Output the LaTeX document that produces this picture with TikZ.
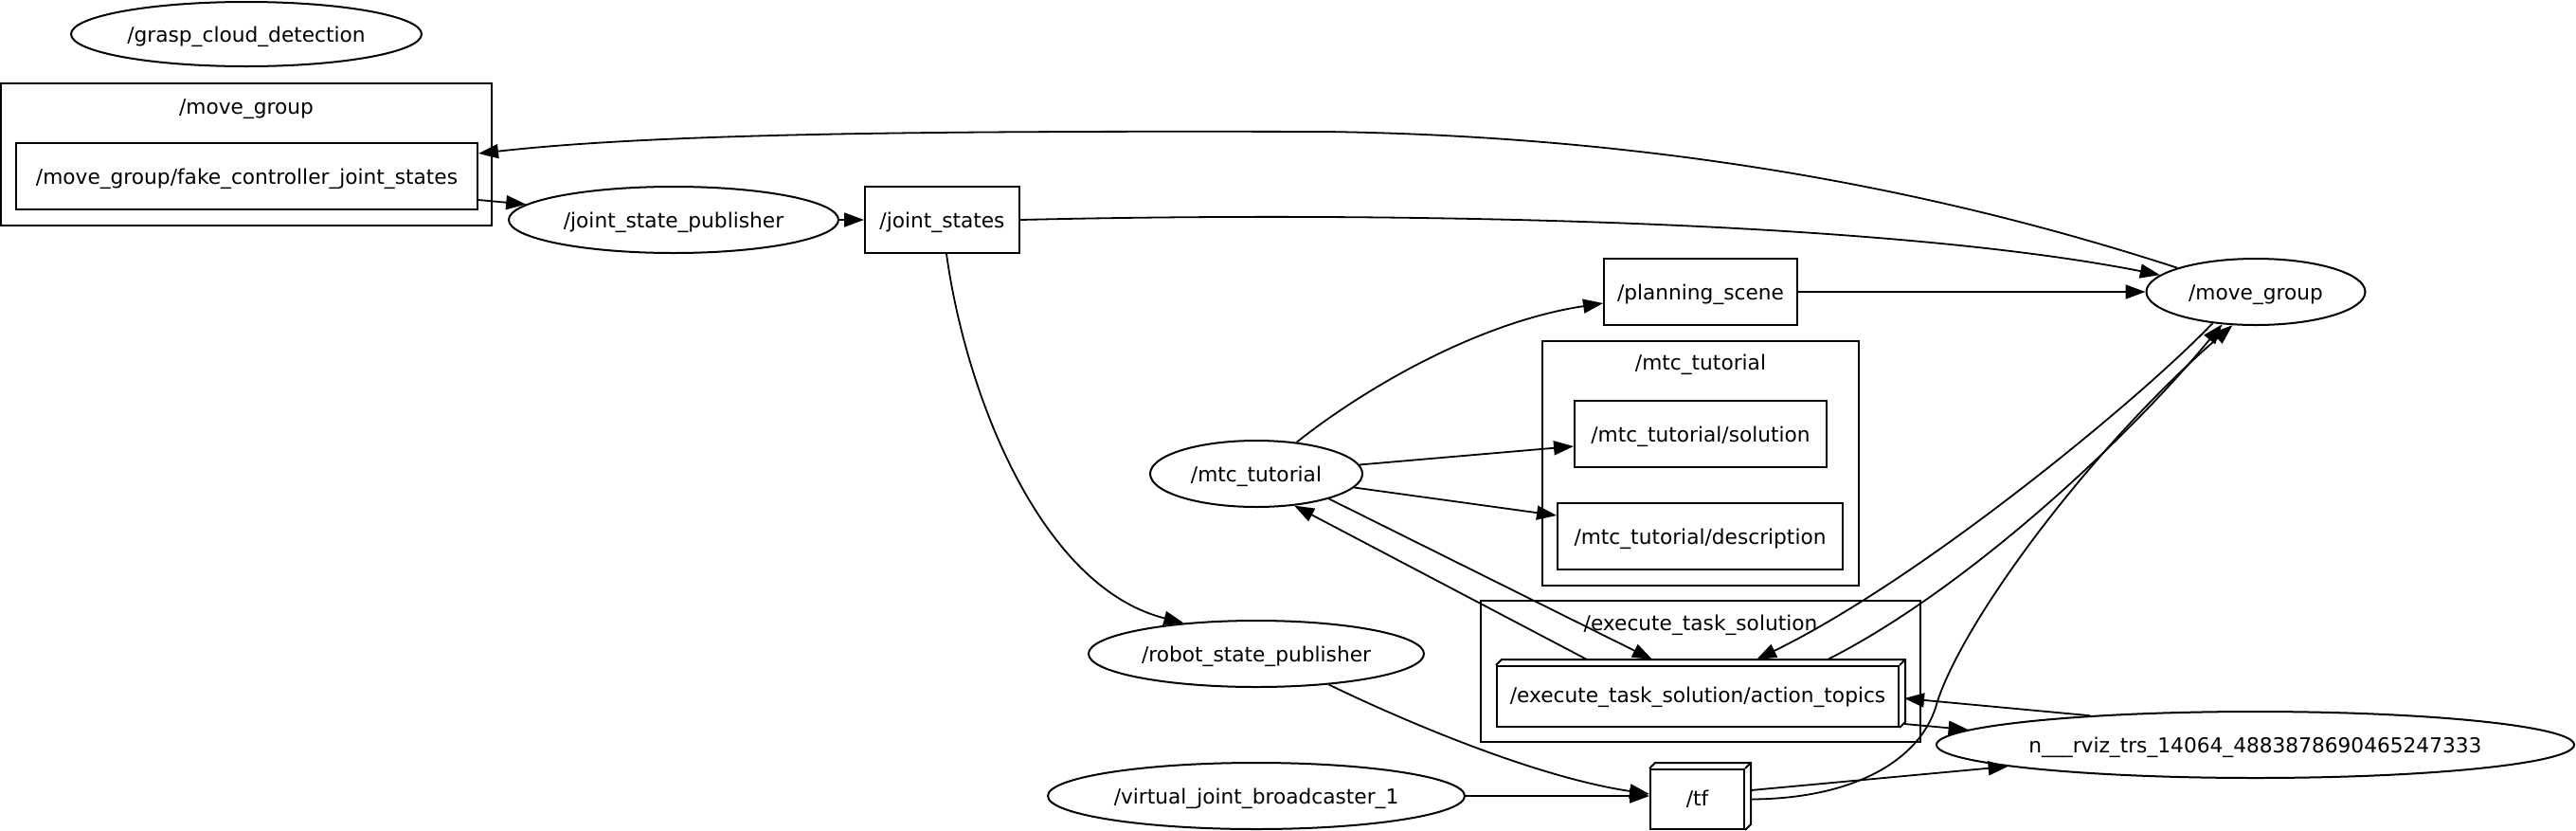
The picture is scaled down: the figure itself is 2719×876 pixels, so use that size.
\documentclass[tikz,border=0pt]{standalone}
\usepackage{fontspec}
\setmainfont{DejaVu Sans}
\usetikzlibrary{shapes.geometric,arrows.meta,calc}
\begin{document}
\begin{tikzpicture}[x=1pt,y=-1pt,
  every node/.style={font=\fontsize{21.7}{26}\selectfont, inner sep=0pt, text height=17pt, text depth=0pt},
  ell/.style={draw, ellipse, line width=2pt, minimum height=70pt},
  box/.style={draw, rectangle, line width=2pt, minimum height=70pt},
  boxthree/.style={draw, rectangle, line width=2pt, text height=13pt},
  clus/.style={draw, rectangle, line width=2pt},
  edge/.style={line width=1.8pt, -{Triangle[length=21pt,width=15pt]}},
  face/.style={line width=2pt, line join=miter}
]
\useasboundingbox (0,0) rectangle (2719,876);

% clusters
\node[clus, minimum width=518pt, minimum height=150pt] (mgc) at (260,163) {};
\node (mgcl) at (260,111.5) {/move\_group};
\node[clus, minimum width=334pt, minimum height=258pt] (mtcc) at (1795,489) {};
\node (mtccl) at (1795,381.5) {/mtc\_tutorial};
\node[clus, minimum width=464pt, minimum height=149pt] (etsc) at (1795,708.5) {};
\node (etscl) at (1795,656.5) {/execute\_task\_solution};

% nodes
\node[ell, minimum width=370pt, minimum height=68pt] (grasp) at (260,36) {/grasp\_cloud\_detection};
\node[box, minimum width=487pt] (fake) at (260.5,186) {/move\_group/fake\_controller\_joint\_states};
\node[ell, minimum width=348pt] (jsp) at (711,232) {/joint\_state\_publisher};
\node[box, minimum width=163pt] (js) at (994.5,232) {/joint\_states};
\node[box, minimum width=204pt] (ps) at (1795,308) {/planning\_scene};
\node[ell, minimum width=231pt] (mg) at (2381,308) {/move\_group};
\node[box, minimum width=266pt] (sol) at (1795,458) {/mtc\_tutorial/solution};
\node[box, minimum width=301pt] (desc) at (1794.5,566) {/mtc\_tutorial/description};
\node[ell, minimum width=224pt] (mtc) at (1326,500) {/mtc\_tutorial};
\node[ell, minimum width=354pt] (rsp) at (1326,690) {/robot\_state\_publisher};
\node[ell, minimum width=440pt] (vjb) at (1326,840) {/virtual\_joint\_broadcaster\_1};
\node[boxthree, minimum width=424pt, minimum height=64pt] (at) at (1792,735) {/execute\_task\_solution/action\_topics};
\node[boxthree, minimum width=99pt, minimum height=63pt] (tf) at (1791.5,843.5) {/tf};
\node[ell, minimum width=673pt, label={[name=rvizt]center:n\_\_\_rviz\_trs\_14064\_4883878690465247333}] (rviz) at (2380.5,786) {};

% 3d faces
\draw[face] (at.north west) -- ++(6,-6) -- ($(at.north east)+(6,-6)$) -- ($(at.south east)+(6,-6)$) -- (at.south east);
\draw[face] (at.north east) -- ++(6,-6);
\draw[face] (tf.north west) -- ++(6,-6) -- ($(tf.north east)+(6,-6)$) -- ($(tf.south east)+(6,-6)$) -- (tf.south east);
\draw[face] (tf.north east) -- ++(6,-6);

% edges
\draw[edge] (mg.163) .. controls (2120,225) and (1820,145) .. (1400,139) .. controls (1000,138) and (700,140) .. ($(fake.east)+(0,-24)$);
\draw[edge] ($(fake.east)+(0,25)$) -- (jsp.174.5);
\draw[edge] (jsp.east) -- (js.west);
\draw[edge] (js.east) .. controls (1500,222) and (2000,235) .. (mg.170.6);
\draw[edge] (ps.east) -- (mg.west);
\draw[edge] (mtc.38) .. controls (1440,410) and (1560,340) .. ($(ps.west)+(0,12)$);
\draw[edge] (mtc.5) -- ($(sol.west)+(0,13)$);
\draw[edge] (mtc.-8.3) -- ($(desc.west)+(0,-22)$);
\draw[edge] (mtc.-19) -- ($(at.north)+(-48,-6)$);
\draw[edge] ($(at.north)+(-117,-6)$) -- (mtc.-40);
\draw[edge] (mg.216) .. controls (2260,420) and (2030,610) .. ($(at.north)+(62,-6)$);
\draw[edge] ($(at.north)+(137,-6)$) .. controls (2070,625) and (2240,470) .. (mg.224);
\draw[edge] ($(tf.east)+(6,0)$) .. controls (1960,843) and (2030,800) .. (2045,740) .. controls (2075,650) and (2210,470) .. (mg.235);
\draw[edge] ($(tf.east)+(6,-9.5)$) -- (rviz.185);
\draw[edge] (rviz.170.8) -- ($(at.east)+(5,2)$);
\draw[edge] ($(at.east)+(5,29)$) -- (rviz.177.4);
\draw[edge] (rsp.-23.7) .. controls (1480,760) and (1620,820) .. ($(tf.west)+(0,-5.5)$);
\draw[edge] (vjb.east) -- ($(tf.west)+(0,-3.5)$);
\draw[edge] ($(js.south)+(4.5,0)$) .. controls (1020,420) and (1100,620) .. (rsp.157.7);
\end{tikzpicture}
\end{document}
